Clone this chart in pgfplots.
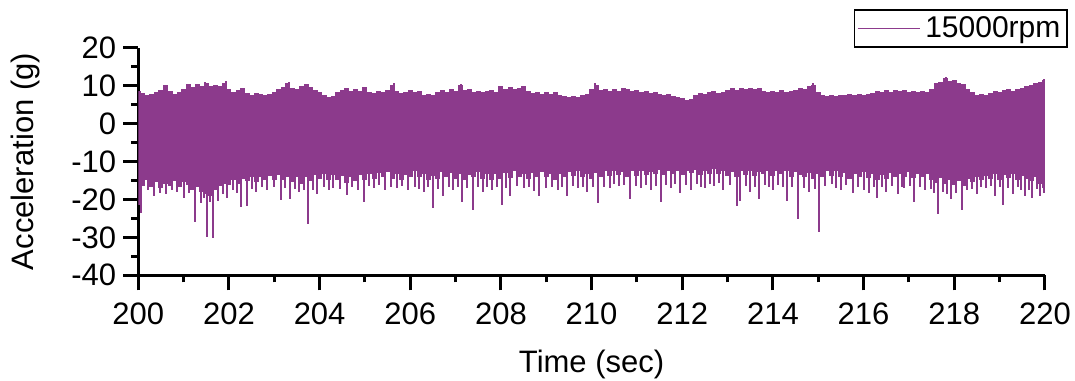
\documentclass[border=0pt]{standalone}
\usepackage{fontspec}
\setmainfont{Liberation Sans}
\usepackage{pgfplots}
\usepackage{pgfplotstable}
\pgfplotsset{compat=1.18}
\definecolor{sig}{RGB}{140,58,140}

\pgfplotstableread{
t up lo
200.0 8.6 -21.5
200.1 8.0 -16.5
200.2 7.6 -15.0
200.3 7.8 -16.8
200.4 8.2 -15.5
200.5 8.8 -17.0
200.6 10.2 -15.8
200.7 8.6 -16.5
200.8 7.8 -15.2
200.9 8.3 -16.8
201.0 9.0 -15.5
201.1 10.3 -16.2
201.2 9.6 -17.5
201.3 10.4 -16.8
201.4 9.8 -18.0
201.5 10.6 -18.5
201.6 9.9 -19.0
201.7 10.2 -17.5
201.8 10.0 -16.5
201.9 10.8 -15.8
202.0 9.2 -16.2
202.1 8.4 -15.0
202.2 8.8 -16.0
202.3 9.4 -14.5
202.4 8.0 -15.2
202.5 7.6 -14.0
202.6 8.0 -15.5
202.7 7.8 -14.2
202.8 7.6 -15.0
202.9 7.9 -13.8
203.0 8.3 -14.8
203.1 9.0 -13.5
203.2 9.6 -15.0
203.3 10.7 -14.0
203.4 9.5 -15.5
203.5 9.0 -14.2
203.6 9.8 -15.8
203.7 10.4 -14.0
203.8 9.6 -15.2
203.9 8.8 -13.6
204.0 8.2 -14.5
204.1 7.4 -13.2
204.2 6.9 -14.8
204.3 7.2 -13.5
204.4 8.2 -15.0
204.5 8.8 -13.8
204.6 9.4 -15.6
204.7 8.6 -14.0
204.8 9.2 -15.2
204.9 8.7 -13.5
205.0 9.6 -14.8
205.1 8.4 -13.2
205.2 8.0 -14.5
205.3 8.6 -13.0
205.4 8.2 -14.0
205.5 8.8 -12.8
205.6 10.2 -14.6
205.7 8.5 -13.2
205.8 8.0 -14.8
205.9 8.4 -13.5
206.0 8.9 -14.2
206.1 8.2 -12.6
206.2 8.6 -14.0
206.3 7.6 -13.2
206.4 7.8 -15.0
206.5 7.5 -13.8
206.6 8.4 -14.5
206.7 8.8 -12.8
206.8 8.2 -14.2
206.9 9.0 -13.0
207.0 8.6 -14.6
207.1 10.2 -13.4
207.2 8.8 -15.0
207.3 9.2 -13.6
207.4 8.4 -14.2
207.5 8.7 -12.8
207.6 8.2 -14.5
207.7 8.6 -13.2
207.8 8.9 -14.8
207.9 8.4 -13.4
208.0 10.0 -14.6
208.1 9.2 -13.0
208.2 9.6 -14.4
208.3 9.0 -12.6
208.4 9.5 -14.0
208.5 9.8 -13.2
208.6 8.6 -14.6
208.7 8.0 -13.0
208.8 8.3 -14.2
208.9 7.8 -12.8
209.0 8.2 -14.0
209.1 7.9 -13.2
209.2 8.4 -14.8
209.3 7.6 -13.4
209.4 7.2 -14.2
209.5 7.0 -12.8
209.6 7.3 -13.8
209.7 6.9 -12.6
209.8 7.4 -14.0
209.9 7.8 -13.2
210.0 9.0 -14.6
210.1 10.2 -13.0
210.2 8.8 -14.2
210.3 9.2 -12.6
210.4 8.6 -13.8
210.5 9.0 -12.4
210.6 8.7 -13.6
210.7 9.3 -12.8
210.8 9.0 -14.0
210.9 8.5 -12.6
211.0 8.8 -13.8
211.1 8.3 -12.4
211.2 8.6 -13.6
211.3 8.0 -12.8
211.4 8.4 -13.4
211.5 7.8 -12.2
211.6 7.6 -13.6
211.7 7.9 -12.6
211.8 7.2 -13.2
211.9 7.0 -12.4
212.0 6.8 -13.6
212.1 6.2 -12.6
212.2 6.6 -13.0
212.3 7.4 -12.2
212.4 8.0 -13.6
212.5 7.8 -12.4
212.6 8.2 -13.2
212.7 8.6 -12.0
212.8 8.0 -13.4
212.9 8.4 -12.6
213.0 8.9 -13.8
213.1 9.3 -12.8
213.2 8.8 -14.0
213.3 9.4 -12.6
213.4 9.0 -13.6
213.5 9.5 -12.4
213.6 9.1 -13.8
213.7 9.4 -12.8
213.8 8.6 -13.4
213.9 8.2 -12.6
214.0 8.6 -13.8
214.1 8.3 -12.4
214.2 8.8 -13.2
214.3 8.4 -12.6
214.4 8.7 -14.0
214.5 8.9 -12.8
214.6 9.3 -13.6
214.7 9.0 -14.2
214.8 9.8 -13.0
214.9 10.2 -14.6
215.0 8.2 -13.4
215.1 7.6 -14.0
215.2 7.2 -12.6
215.3 7.5 -13.8
215.4 7.3 -12.4
215.5 7.6 -14.2
215.6 7.4 -13.0
215.7 7.8 -14.6
215.8 7.5 -13.2
215.9 7.7 -14.0
216.0 7.4 -12.8
216.1 7.8 -14.4
216.2 8.0 -13.4
216.3 8.6 -14.8
216.4 8.2 -13.6
216.5 8.8 -14.6
216.6 8.4 -13.0
216.7 8.9 -14.2
216.8 8.5 -13.2
216.9 8.8 -14.0
217.0 8.3 -12.8
217.1 8.7 -14.4
217.2 8.2 -13.2
217.3 8.6 -14.0
217.4 8.4 -13.4
217.5 9.0 -14.8
217.6 10.6 -15.6
217.7 11.0 -14.4
217.8 11.9 -16.0
217.9 11.2 -15.0
218.0 11.4 -16.2
218.1 10.6 -15.2
218.2 10.4 -16.4
218.3 9.2 -14.6
218.4 8.2 -15.4
218.5 7.6 -14.0
218.6 7.8 -15.0
218.7 7.5 -13.8
218.8 8.0 -14.6
218.9 8.6 -13.4
219.0 8.4 -14.8
219.1 8.9 -13.6
219.2 9.0 -14.4
219.3 8.7 -13.2
219.4 9.2 -15.0
219.5 9.4 -13.8
219.6 9.8 -14.6
219.7 10.2 -15.2
219.8 10.8 -14.0
219.9 11.0 -16.0
220.0 11.5 -17.0
}\env

\pgfplotstableread{
t v
200.05 -23.5
200.22 -17.5
200.35 -19.0
200.48 -18.2
200.62 -18.5
200.74 -17.6
200.85 -18.0
201.00 -19.5
201.12 -18.4
201.24 -25.9
201.38 -21.0
201.45 -19.6
201.51 -29.8
201.58 -20.8
201.64 -30.1
201.76 -20.5
201.86 -18.6
201.95 -19.5
202.08 -17.6
202.18 -18.2
202.27 -21.9
202.39 -21.8
202.50 -17.2
202.60 -18.0
202.72 -16.8
202.85 -17.5
203.00 -16.8
203.14 -20.1
203.24 -17.0
203.35 -19.8
203.45 -17.2
203.55 -18.0
203.66 -17.4
203.74 -26.5
203.85 -17.6
203.95 -18.5
204.10 -16.6
204.20 -17.4
204.30 -17.0
204.45 -17.2
204.60 -18.8
204.72 -16.8
204.85 -17.6
204.99 -20.8
205.10 -16.4
205.20 -17.0
205.32 -16.2
205.45 -17.5
205.58 -16.6
205.70 -17.0
205.82 -16.4
205.95 -17.5
206.10 -16.6
206.20 -17.2
206.30 -18.0
206.40 -16.8
206.51 -22.3
206.62 -17.2
206.72 -19.0
206.85 -16.6
206.95 -17.5
207.05 -16.8
207.15 -20.6
207.26 -17.0
207.39 -22.8
207.50 -16.6
207.60 -18.0
207.70 -16.6
207.80 -17.5
207.92 -16.8
208.03 -21.5
208.12 -17.0
208.20 -19.2
208.35 -16.4
208.50 -17.0
208.62 -16.6
208.72 -17.8
208.83 -19.0
209.00 -17.0
209.12 -16.6
209.25 -17.5
209.35 -16.8
209.45 -19.0
209.58 -16.4
209.70 -17.0
209.80 -16.6
209.90 -18.0
210.02 -16.8
210.15 -20.9
210.28 -16.6
210.40 -17.0
210.50 -16.0
210.60 -16.5
210.72 -16.2
210.85 -19.8
210.98 -16.4
211.10 -17.0
211.20 -16.2
211.30 -17.5
211.42 -16.4
211.52 -20.8
211.64 -16.2
211.75 -17.0
211.85 -16.0
211.94 -18.2
212.08 -16.2
212.20 -17.5
212.32 -16.0
212.42 -16.8
212.50 -17.0
212.62 -15.8
212.70 -16.5
212.80 -15.6
212.90 -17.5
213.05 -16.2
213.20 -21.7
213.28 -20.5
213.40 -16.4
213.50 -18.0
213.60 -16.6
213.70 -19.8
213.82 -16.2
213.92 -16.8
214.00 -17.5
214.12 -16.2
214.22 -16.8
214.30 -20.5
214.42 -16.6
214.56 -25.2
214.68 -17.0
214.80 -18.0
214.92 -17.2
215.02 -28.7
215.15 -16.4
215.30 -16.0
215.40 -17.0
215.50 -17.5
215.62 -16.2
215.76 -18.3
215.88 -16.6
216.00 -17.5
216.12 -18.3
216.22 -16.6
216.30 -19.5
216.40 -16.8
216.50 -18.0
216.62 -16.4
216.75 -18.5
216.84 -16.6
216.90 -17.0
217.02 -16.4
217.12 -20.8
217.25 -16.6
217.35 -17.5
217.48 -17.2
217.56 -18.4
217.64 -23.8
217.75 -18.0
217.84 -18.6
217.93 -19.8
218.04 -18.2
218.16 -22.7
218.28 -17.6
218.40 -17.2
218.50 -18.5
218.60 -16.8
218.70 -17.0
218.80 -16.4
218.90 -19.0
219.00 -16.8
219.08 -21.5
219.18 -17.0
219.30 -18.5
219.40 -16.8
219.48 -17.6
219.56 -19.0
219.64 -17.4
219.72 -19.5
219.82 -17.2
219.90 -19.0
219.97 -18.2
201.47 11.0
201.93 11.2
203.32 11.0
205.63 10.6
207.12 10.5
210.08 10.6
214.88 10.6
217.82 12.3
219.97 11.8
}\spikes

\begin{document}
\begin{tikzpicture}
\useasboundingbox (-69.15pt,-52.35pt) rectangle (468.35pt,137.65pt);
\begin{axis}[
  scale only axis,
  width=453.3pt, height=113.8pt,
  xmin=200, xmax=220, ymin=-40, ymax=20,
  axis lines=left,
  axis line style={line width=1.5pt, -},
  tick align=outside,
  major tick length=7.5pt, minor tick length=3.5pt,
  every tick/.style={black, line width=1.5pt},
  xtick={200,202,...,220}, minor x tick num=1,
  ytick={-40,-30,...,20}, minor y tick num=1,
  /pgf/number format/assume math mode=true,
  tick label style={font=\fontsize{15.5}{17}\selectfont},
  xticklabel style={yshift=-2.5pt},
  label style={font=\fontsize{15.5}{17}\selectfont},
  xlabel={Time (sec)}, ylabel={Acceleration (g)},
  xlabel style={yshift=-6pt},
  ylabel shift=9pt,
  legend style={at={(1.025,1.0)}, anchor=south east, draw=black, line width=0.8pt,
    font=\fontsize{15}{17}\selectfont, inner sep=1.2pt},
  legend image code/.code={\draw[#1, line width=0.9pt] (0cm,0cm) -- (1.1cm,0cm);},
  clip=true,
]
\addlegendimage{color=sig}
\addlegendentry{15000rpm}
\addplot[ycomb, color=sig, line width=2.5pt, forget plot] table[x=t, y=up] {\env};
\addplot[ycomb, color=sig, line width=2.5pt, forget plot] table[x=t, y=lo] {\env};
\addplot[ycomb, color=sig, line width=1.0pt, forget plot] table[x=t, y=v] {\spikes};
\end{axis}
\end{tikzpicture}
\end{document}
